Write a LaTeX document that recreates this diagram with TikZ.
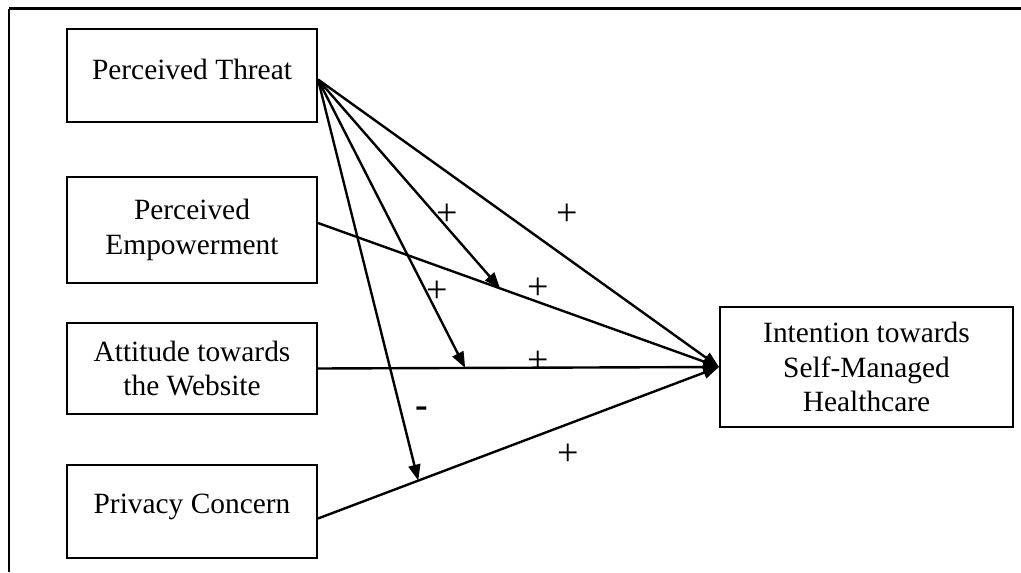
\documentclass[tikz,border=0pt]{standalone}
\usepackage{fontspec}
\setmainfont{Liberation Serif}
\usetikzlibrary{arrows.meta}

\begin{document}
\begin{tikzpicture}[x=0.5pt, y=-0.5pt, line width=1pt,
  font=\fontsize{14.7}{17.3}\selectfont,
  box/.style={draw, align=center, minimum width=125pt, inner sep=0pt},
  arr/.style={line width=1.2pt, -{Triangle[length=8pt,width=6pt]}},
  sign/.style={font=\fontsize{19}{20}\selectfont}]
\useasboundingbox (0,0) rectangle (1021,572);
\draw (9,572) -- (9,9);
\draw[line width=1.5pt] (9,9) -- (1021,9);
\node[box, minimum height=46.5pt, text depth=6pt] (threat) at (192,75.5) {Perceived Threat};
\node[box, minimum height=53pt] (empower) at (192,230) {Perceived\\Empowerment};
\node[box, minimum height=45.5pt] (attitude) at (192,368.5) {Attitude towards\\the Website};
\node[box, minimum height=46.5pt, text depth=8pt] (privacy) at (192,511.5) {Privacy Concern};
\node[box, minimum width=146.5pt, minimum height=60pt] (intention) at (866.5,367)
  {Intention towards\\Self-Managed\\Healthcare};
\coordinate (src) at ([yshift=-2pt]threat.east);
\draw[arr] (src) -- (intention.west);
\draw[arr] ([yshift=3.5pt]empower.east) -- coordinate[pos=0.454] (m1) (intention.west);
\draw[arr] (attitude.east) -- coordinate[pos=0.367] (m2) (intention.west);
\draw[arr] ([yshift=-3.5pt]privacy.east) -- coordinate[pos=0.25] (m3) (intention.west);
\draw[arr] (src) -- (m1);
\draw[arr] (src) -- (m2);
\draw[arr] (src) -- (m3);
\node[sign] (s1) at (567,215) {+};
\node[sign] (s2) at (447,215) {+};
\node[sign] (s3) at (437,292) {+};
\node[sign] (s4) at (538,289) {+};
\node[sign] (s5) at (538,362) {+};
\node[sign] (s6) at (422,412) {\textbf{-}};
\node[sign] (s7) at (568,455) {+};
\end{tikzpicture}
\end{document}
